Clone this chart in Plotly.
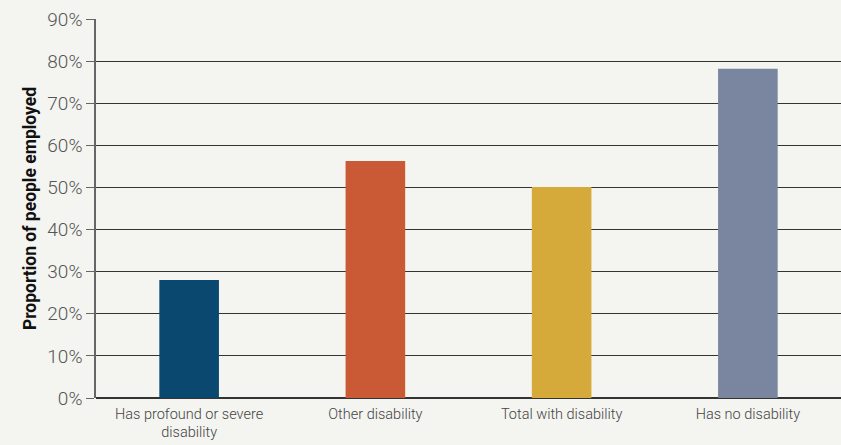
import plotly.graph_objects as go

categories = ["Has profound or severe<br>disability", "Other disability", "Total with disability", "Has no disability"]
values = [28, 56.3, 50.1, 78.2]
colors = ["#0b4870", "#c95a35", "#d6a93b", "#7a859f"]
y_ticks = [0, 10, 20, 30, 40, 50, 60, 70, 80, 90]
y_tick_labels = [f"{v}%" for v in y_ticks]

fig = go.Figure(go.Bar(
    x=categories, y=values, marker=dict(color=colors, line=dict(width=0)),
    width=0.32, hoverinfo="skip",
))

fig.update_layout(
    width=841, height=445,
    margin=dict(l=96, r=0, t=19, b=47),
    paper_bgcolor="#f4f4f0", plot_bgcolor="#f4f4f0",
    showlegend=False,
    font=dict(family="Roboto", color="#555555"),
)
fig.update_xaxes(
    showgrid=False, showline=False, ticks="",
    tickfont=dict(size=14.5, family="Roboto", weight=300, color="#444444"),
    ticklabelstandoff=5,
)
fig.update_yaxes(
    range=[0, 90], tickvals=y_ticks, ticktext=y_tick_labels,
    showgrid=True, gridcolor="#333333", gridwidth=1,
    zeroline=True, zerolinecolor="#333333", zerolinewidth=1.5,
    showline=True, linecolor="#666666", linewidth=1.5,
    ticks="outside", ticklen=8, tickcolor="#666666", tickwidth=1,
    tickfont=dict(size=19, family="Roboto", weight=300, color="#555555"),
    title=dict(text="Proportion of people employed", standoff=6,
               font=dict(size=17.5, family="Roboto", weight="bold", color="#111111")),
)

fig.write_html("out.html", config={"displayModeBar": False},
               post_script="document.body.style.margin='0';document.body.style.background='#f4f4f0';")
